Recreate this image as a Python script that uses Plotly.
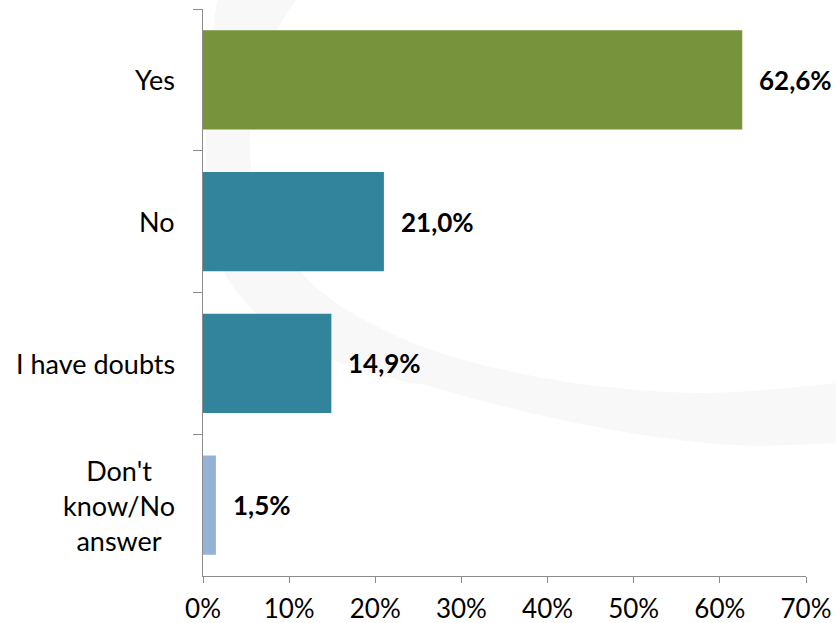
import plotly.graph_objects as go

categories = ["Yes", "No", "I have doubts", "Don't<br>know/No<br>answer"]
values = [62.6, 21.0, 14.9, 1.5]
value_labels = ["62,6%", "21,0%", "14,9%", "1,5%"]
bar_colors = ["#77933C", "#31849B", "#31849B", "#95B3D7"]
x_tick_vals = [0, 10, 20, 30, 40, 50, 60, 70]
x_tick_text = ["0%", "10%", "20%", "30%", "40%", "50%", "60%", "70%"]

FONT = "Lato"
W, H = 836, 623
ML, MR, MT, MB = 203, 30, 9, 47

fig = go.Figure()
fig.add_trace(go.Bar(
    x=values, y=categories, orientation="h",
    marker=dict(color=bar_colors, line=dict(width=0)),
    hoverinfo="skip",
))

# data labels
for v, c, t in zip(values, categories, value_labels):
    fig.add_annotation(x=v, y=c, xref="x", yref="y", text=f"<b>{t}</b>",
                       showarrow=False, xanchor="left", yanchor="middle", xshift=15,
                       font=dict(family=FONT, size=26, color="#000000"))

# category labels (centered multi-line)
for c in categories:
    fig.add_annotation(x=0, y=c, xref="paper", yref="y", text=c,
                       showarrow=False, xanchor="right", yanchor="middle", xshift=-26,
                       align="center",
                       font=dict(family=FONT, size=27, color="#000000"))

# faint decorative arc in the background
pw, ph = W - ML - MR, H - MT - MB
def P(px, py):
    return f"{(px - ML) / pw:.4f},{(H - MB - py) / ph:.4f}"

path = (
    f"M {P(218, -5)} "
    f"C {P(206, 70)} {P(198, 180)} {P(220, 265)} "
    f"C {P(255, 335)} {P(335, 370)} {P(425, 385)} "
    f"C {P(560, 425)} {P(680, 445)} {P(760, 446)} "
    f"L {P(845, 443)} L {P(845, 382)} "
    f"C {P(790, 388)} {P(740, 393)} {P(700, 393)} "
    f"C {P(560, 390)} {P(440, 360)} {P(380, 328)} "
    f"C {P(300, 290)} {P(252, 230)} {P(250, 150)} "
    f"C {P(248, 90)} {P(265, 40)} {P(300, -5)} Z"
)
fig.add_shape(type="path", path=path, xref="paper", yref="paper",
              fillcolor="#f8f8f8", line=dict(width=0), layer="below")

fig.update_layout(
    width=W, height=H, autosize=False,
    margin=dict(l=ML, r=MR, t=MT, b=MB, pad=0, autoexpand=False),
    paper_bgcolor="white", plot_bgcolor="rgba(0,0,0,0)",
    bargap=0.30,
    showlegend=False,
    font=dict(family=FONT, size=26, color="#000000"),
    xaxis=dict(range=[0, 70], tickvals=x_tick_vals, ticktext=x_tick_text,
               showgrid=False, zeroline=False, showline=True, linecolor="#8c8c8c",
               linewidth=1, ticks="outside", ticklen=6, tickcolor="#8c8c8c",
               ticklabelstandoff=4, automargin=False,
               tickfont=dict(family=FONT, size=26, color="#000000"), fixedrange=True),
    yaxis=dict(autorange="reversed", showgrid=False, zeroline=False, showline=True,
               linecolor="#8c8c8c", linewidth=1, ticks="outside", ticklen=9,
               tickcolor="#8c8c8c", tickson="boundaries", showticklabels=False,
               automargin=False, fixedrange=True),
)

fig.write_html("out.html", config={"displayModeBar": False},
               post_script="document.body.style.margin='0';document.body.style.overflow='hidden';")
